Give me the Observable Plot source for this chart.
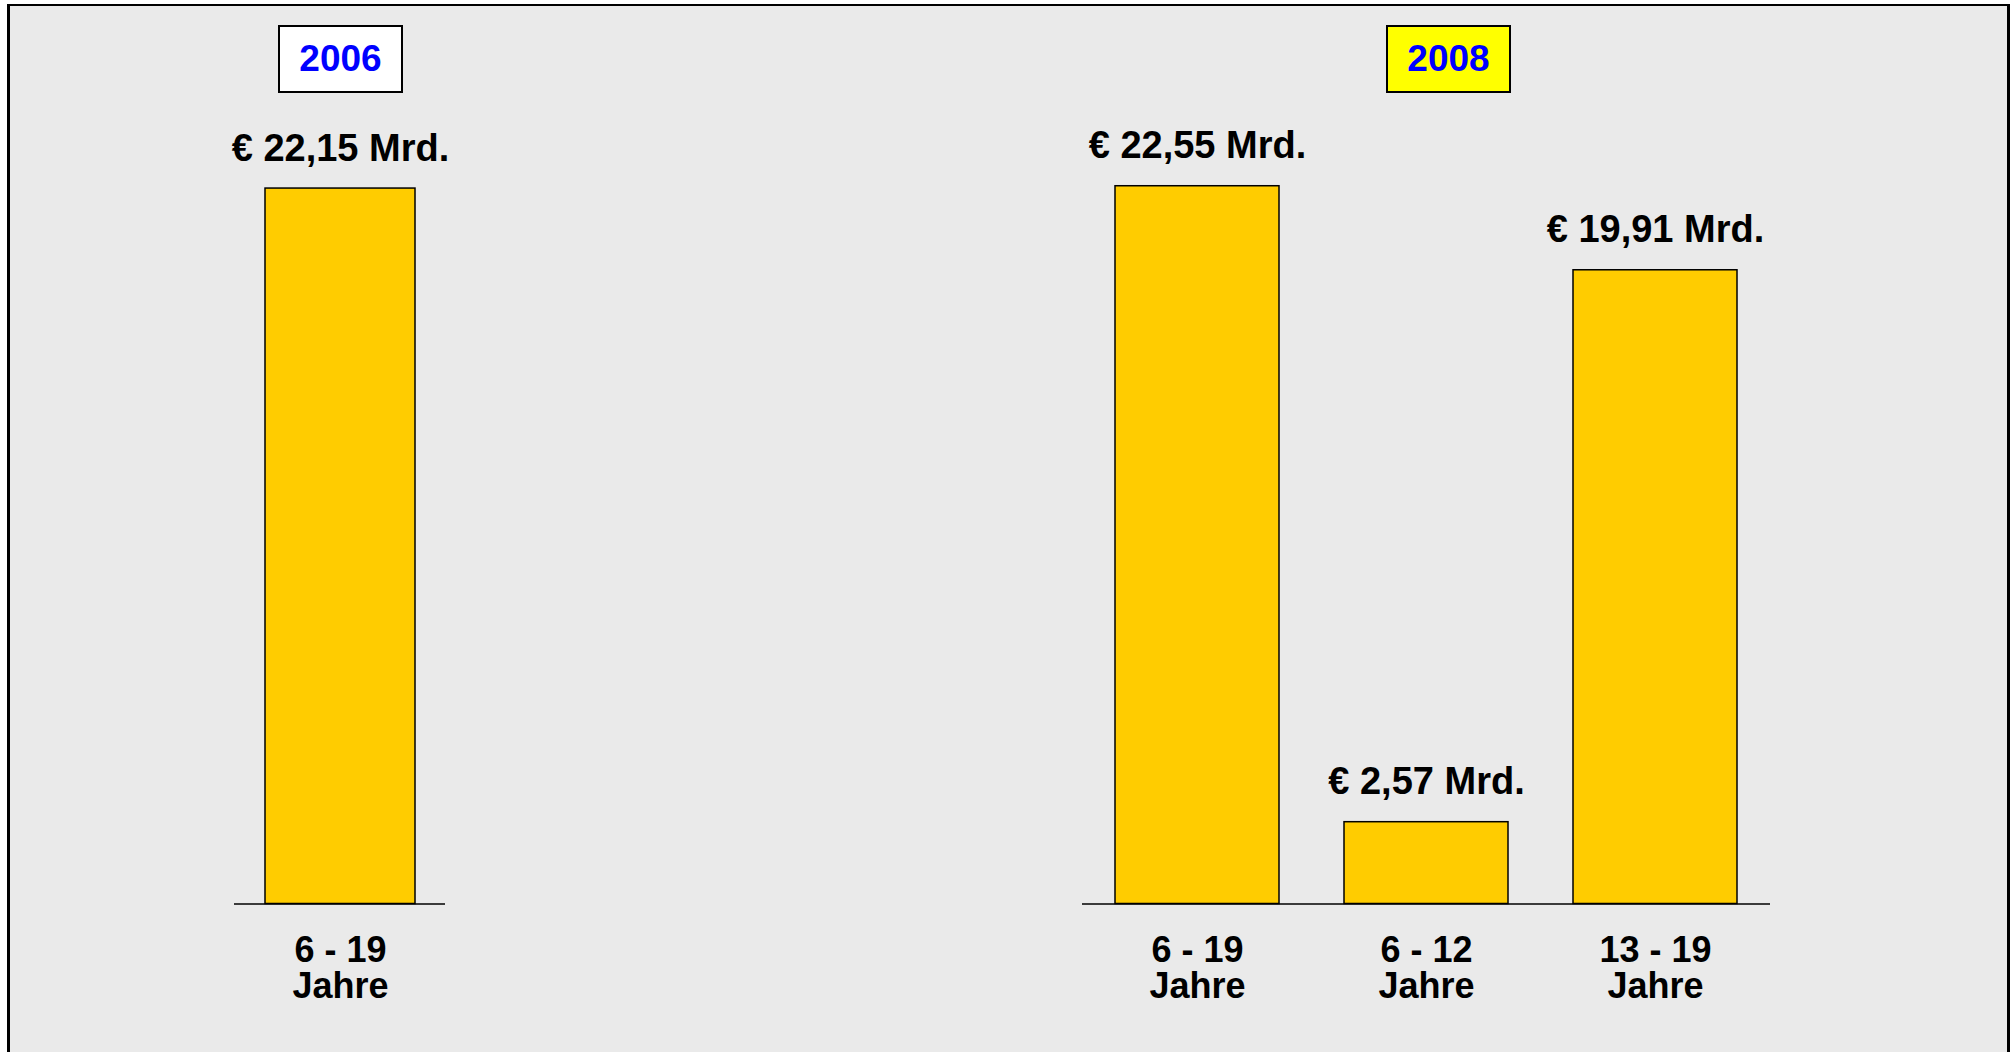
<!DOCTYPE html>
<html>
<head>
<meta charset="utf-8">
<script src="https://cdn.jsdelivr.net/npm/d3@7"></script>
<script src="https://cdn.jsdelivr.net/npm/@observablehq/plot@0.6"></script>
<style>
  html, body { margin: 0; padding: 0; background: #ffffff; overflow: hidden; }
  body { width: 2011px; height: 1052px; position: relative; font-family: "Liberation Sans", Arial, sans-serif; }
  #frame { position: absolute; left: 7px; top: 4px; width: 2003px; height: 1100px; box-sizing: border-box;
           border-left: 3px solid #000; border-top: 2px solid #000; border-right: 3px solid #000; background: #eaeaea; }
  .yearbox { position: absolute; top: 25px; width: 125px; height: 68px; box-sizing: border-box; border: 2px solid #000;
             display: flex; align-items: center; justify-content: center; font-weight: bold; font-size: 37px; color: #0000ff; }
  .chart { position: absolute; top: 0; }
  .chart svg { overflow: visible; }
</style>
</head>
<body>
<div id="frame"></div>
<div id="charts"></div>
<script>
// ---- data ----
const years = ["2006", "2008"];
const yearBoxColors = ["#ffffff", "#ffff00"];
const categories2006 = ["6 - 19\nJahre"];
const values2006 = [22.15];
const categories2008 = ["6 - 19\nJahre", "6 - 12\nJahre", "13 - 19\nJahre"];
const values2008 = [22.55, 2.57, 19.91];

const fmt = v => `€ ${v.toFixed(2).replace(".", ",")} Mrd.`;

function makeChart(categories, values, opts) {
  const data = categories.map((c, i) => ({category: c, value: values[i]}));
  return Plot.plot({
    width: opts.width,
    height: 1052,
    marginLeft: opts.marginLeft,
    marginRight: opts.marginRight,
    marginTop: opts.marginTop,
    marginBottom: 148.5,
    style: {background: "transparent", fontFamily: "'Liberation Sans', Arial, sans-serif", color: "#000", fontSize: "36px", overflow: "visible"},
    x: {domain: categories, paddingInner: opts.paddingInner, paddingOuter: opts.paddingOuter, label: null},
    y: {domain: [0, 25], axis: null},
    marks: [
      Plot.barY(data, {x: "category", y: "value", fill: "#ffcc00", stroke: "#000", strokeWidth: 1.5}),
      Plot.ruleY([0], {stroke: "#000", strokeWidth: 1.5}),
      Plot.text(data, {x: "category", y: "value", text: d => fmt(d.value), fontSize: 38, fontWeight: "bold",
                       lineAnchor: "bottom", dy: -28, fill: "#000"}),
      Plot.axisX({tickSize: 0, tickPadding: 32, fontSize: 36, fontWeight: "bold", lineHeight: 1, label: null, fill: "#000"})
    ]
  });
}

const charts = document.getElementById("charts");

const c1 = makeChart(categories2006, values2006, {width: 380, marginLeft: 84, marginRight: 85, marginTop: 96,
                                                   paddingInner: 0.169, paddingOuter: 0.169});
const w1 = document.createElement("div"); w1.className = "chart"; w1.style.left = "150px"; w1.appendChild(c1); charts.appendChild(w1);

const c2 = makeChart(categories2008, values2008, {width: 850, marginLeft: 82, marginRight: 80, marginTop: 107.75,
                                                   paddingInner: 0.286, paddingOuter: 0.145});
const w2 = document.createElement("div"); w2.className = "chart"; w2.style.left = "1000px"; w2.appendChild(c2); charts.appendChild(w2);

// year boxes
const boxLefts = [278, 1386];
years.forEach((y, i) => {
  const b = document.createElement("div");
  b.className = "yearbox";
  b.style.left = boxLefts[i] + "px";
  b.style.background = yearBoxColors[i];
  b.textContent = y;
  document.body.appendChild(b);
});
</script>
</body>
</html>
